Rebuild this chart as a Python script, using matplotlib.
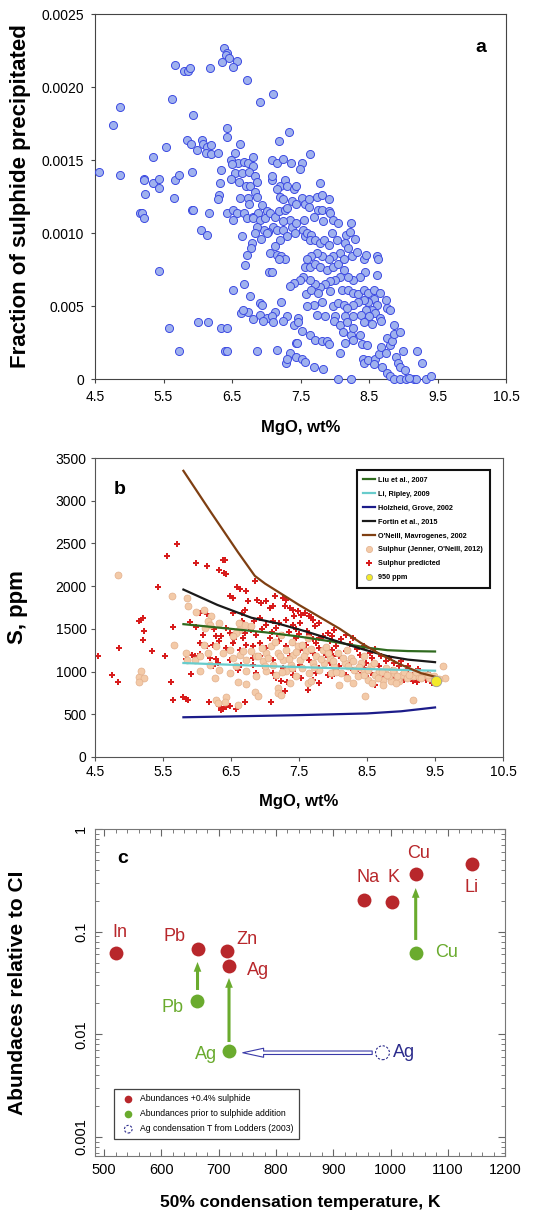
import matplotlib
matplotlib.use('Agg')
import matplotlib.pyplot as plt
import numpy as np
from matplotlib.patches import FancyArrowPatch
from matplotlib.lines import Line2D
from matplotlib.ticker import MultipleLocator, LogLocator, NullFormatter

plt.rcParams['font.family'] = ['Liberation Sans', 'DejaVu Sans']

# ---- panel a: fraction of sulphide precipitated vs MgO ----
mgo_a = [6.38, 6.42, 6.41, 6.46, 6.36, 6.58, 6.52, 6.72, 5.67, 5.80,
         5.86, 5.88, 6.18, 5.63, 6.91, 7.10, 4.86, 4.76, 5.93, 6.43,
         6.42, 7.33, 7.18, 6.61, 5.54, 5.85, 5.90, 5.99, 6.06, 6.08,
         6.14, 6.19, 6.12, 6.20, 6.30, 6.54, 5.35, 4.56, 4.87, 5.21,
         5.22, 5.34, 5.44, 5.44, 5.67, 5.73, 5.91, 5.65, 5.23, 5.15,
         5.19, 5.22, 5.92, 5.93, 6.16, 6.04, 6.13, 5.43, 6.34, 6.33,
         6.31, 6.29, 6.42, 6.52, 6.57, 6.67, 6.52, 6.72, 6.81, 6.64,
         6.79, 6.77, 6.72, 6.69, 6.52, 6.68, 6.76, 6.63, 6.48, 6.59,
         6.68, 6.74, 6.81, 6.81, 6.50, 6.54, 6.64, 6.75, 6.83, 6.49,
         6.60, 6.70, 6.76, 6.87, 6.83, 6.86, 6.74, 6.61, 6.75, 6.94,
         7.01, 6.88, 6.81, 6.91, 6.98, 7.06, 7.13, 7.18, 7.28, 7.31,
         7.35, 7.25, 7.10, 7.03, 6.96, 6.86, 6.84, 6.93, 7.01, 7.15,
         7.25, 7.37, 7.44, 7.42, 7.30, 7.20, 7.13, 7.06, 7.15, 7.22,
         7.28, 7.18, 7.04, 7.09, 7.08, 7.09, 7.15, 7.25, 7.36, 7.52,
         7.49, 7.64, 7.79, 7.08, 7.20, 7.16, 7.28, 7.30, 7.40, 7.43,
         7.20, 7.25, 7.37, 7.43, 7.52, 7.57, 7.62, 7.74, 7.82, 7.91,
         7.62, 7.76, 7.81, 7.91, 7.93, 7.98, 8.05, 7.83, 7.69, 7.55,
         7.54, 7.57, 7.60, 7.66, 7.64, 7.71, 7.78, 7.84, 7.92, 7.96,
         8.03, 8.17, 8.23, 8.22, 8.30, 8.15, 8.20, 8.07, 7.98, 7.91,
         7.81, 7.74, 7.66, 7.59, 7.57, 7.64, 7.71, 7.78, 7.88, 7.98,
         8.05, 8.13, 8.25, 8.32, 8.42, 8.46, 8.62, 8.63, 8.61, 8.44,
         8.37, 8.27, 8.20, 8.13, 8.08, 8.00, 7.93, 7.86, 7.78, 7.71,
         7.64, 7.54, 7.49, 7.40, 7.35, 8.10, 8.20, 8.27, 8.34, 8.42,
         8.49, 8.57, 8.66, 8.57, 8.49, 8.42, 8.34, 8.27, 8.75, 8.76,
         8.80, 8.61, 8.54, 8.46, 8.59, 7.98, 8.05, 8.13, 8.18, 7.81,
         7.69, 7.59, 7.58, 7.66, 7.76, 7.93, 7.21, 7.30, 6.91, 6.94,
         7.13, 6.74, 6.66, 6.91, 7.01, 7.08, 7.47, 7.74, 7.86, 8.00,
         8.15, 8.27, 8.39, 8.50, 8.66, 5.58, 5.72, 6.00, 6.15, 6.34,
         6.42, 6.40, 6.42, 6.87, 7.16, 6.80, 6.95, 7.10, 7.25, 7.40,
         7.52, 7.47, 7.64, 7.71, 7.81, 7.89, 7.92, 7.43, 7.45, 7.35,
         7.29, 7.31, 7.44, 7.52, 7.57, 7.69, 7.83, 8.07, 8.04, 8.24,
         7.99, 8.07, 8.12, 8.15, 8.24, 8.26, 8.18, 8.27, 8.37, 8.42,
         8.55, 8.67, 8.40, 8.47, 8.41, 8.42, 8.49, 8.59, 8.57, 8.64,
         8.67, 8.75, 8.76, 8.81, 8.84, 8.86, 8.86, 8.95, 8.89, 8.92,
         8.95, 9.00, 9.03, 8.69, 8.76, 8.81, 9.20, 9.28, 8.86, 8.95,
         9.04, 9.15, 9.19, 9.33, 9.40, 9.09]
frac_a = [0.00227, 0.00223, 0.00222, 0.00220, 0.00217, 0.00218, 0.00214, 0.00205, 0.00215, 0.00211,
          0.00211, 0.00213, 0.00213, 0.00192, 0.00190, 0.00195, 0.00186, 0.00174, 0.00181, 0.00172,
          0.00166, 0.00169, 0.00163, 0.00161, 0.00159, 0.00164, 0.00161, 0.00157, 0.00164, 0.00161,
          0.00159, 0.00160, 0.00155, 0.00154, 0.00155, 0.00155, 0.00152, 0.00142, 0.00140, 0.00137,
          0.00136, 0.00134, 0.00137, 0.00131, 0.00136, 0.00140, 0.00142, 0.00124, 0.00127, 0.00114,
          0.00114, 0.00110, 0.00116, 0.00116, 0.00114, 0.00102, 0.00099, 0.00074, 0.00143, 0.00134,
          0.00126, 0.00123, 0.00114, 0.00116, 0.00114, 0.00114, 0.00109, 0.00110, 0.00111, 0.00098,
          0.00093, 0.00090, 0.00085, 0.00078, 0.00061, 0.00065, 0.00057, 0.00045, 0.00150, 0.00148,
          0.00149, 0.00148, 0.00152, 0.00146, 0.00147, 0.00141, 0.00141, 0.00142, 0.00139, 0.00137,
          0.00135, 0.00132, 0.00132, 0.00135, 0.00128, 0.00125, 0.00124, 0.00124, 0.00120, 0.00119,
          0.00115, 0.00114, 0.00110, 0.00109, 0.00110, 0.00114, 0.00111, 0.00115, 0.00116, 0.00117,
          0.00109, 0.00108, 0.00104, 0.00101, 0.00102, 0.00104, 0.00100, 0.00096, 0.00100, 0.00102,
          0.00102, 0.00104, 0.00107, 0.00100, 0.00098, 0.00095, 0.00091, 0.00086, 0.00085, 0.00084,
          0.00082, 0.00082, 0.00073, 0.00073, 0.00136, 0.00150, 0.00148, 0.00151, 0.00148, 0.00148,
          0.00144, 0.00154, 0.00134, 0.00139, 0.00132, 0.00130, 0.00136, 0.00132, 0.00130, 0.00132,
          0.00125, 0.00123, 0.00122, 0.00120, 0.00124, 0.00120, 0.00123, 0.00125, 0.00126, 0.00123,
          0.00118, 0.00116, 0.00116, 0.00115, 0.00114, 0.00109, 0.00107, 0.00108, 0.00111, 0.00109,
          0.00102, 0.00098, 0.00100, 0.00099, 0.00095, 0.00095, 0.00093, 0.00095, 0.00092, 0.00100,
          0.00095, 0.00099, 0.00107, 0.00101, 0.00096, 0.00093, 0.00090, 0.00086, 0.00084, 0.00082,
          0.00084, 0.00086, 0.00084, 0.00082, 0.00077, 0.00077, 0.00079, 0.00077, 0.00075, 0.00077,
          0.00079, 0.00082, 0.00084, 0.00087, 0.00082, 0.00085, 0.00084, 0.00082, 0.00071, 0.00073,
          0.00070, 0.00068, 0.00070, 0.00075, 0.00070, 0.00068, 0.00067, 0.00065, 0.00063, 0.00065,
          0.00068, 0.00070, 0.00068, 0.00066, 0.00064, 0.00061, 0.00061, 0.00059, 0.00058, 0.00061,
          0.00059, 0.00061, 0.00059, 0.00055, 0.00053, 0.00054, 0.00053, 0.00051, 0.00054, 0.00049,
          0.00047, 0.00051, 0.00047, 0.00047, 0.00045, 0.00050, 0.00052, 0.00051, 0.00049, 0.00053,
          0.00051, 0.00050, 0.00058, 0.00061, 0.00059, 0.00060, 0.00053, 0.00043, 0.00052, 0.00051,
          0.00046, 0.00046, 0.00047, 0.00044, 0.00042, 0.00043, 0.00042, 0.00044, 0.00043, 0.00043,
          0.00043, 0.00043, 0.00044, 0.00043, 0.00042, 0.00035, 0.00019, 0.00039, 0.00039, 0.00035,
          0.00035, 0.00019, 0.00019, 0.00019, 0.00020, 0.00041, 0.00040, 0.00039, 0.00040, 0.00037,
          0.00033, 0.00039, 0.00030, 0.00027, 0.00026, 0.00026, 0.00024, 0.00025, 0.00025, 0.00018,
          0.00011, 0.00014, 0.00015, 0.00014, 0.00012, 0.00008, 0.00007, 0.00018, 0.0, 0.0,
          0.00040, 0.00037, 0.00032, 0.00025, 0.00030, 0.00027, 0.00039, 0.00035, 0.00030, 0.00039,
          0.00038, 0.00040, 0.00024, 0.00023, 0.00014, 0.00011, 0.00013, 0.00014, 0.00010, 0.00017,
          0.00022, 0.00018, 0.00028, 0.00023, 0.00026, 0.00037, 0.00031, 0.00032, 0.00015, 0.00011,
          0.00008, 0.00019, 0.00006, 0.00008, 0.00004, 0.00002, 0.00019, 0.00011, 0.0, 0.0,
          0.0, 0.0, 0.0, 0.0, 0.00002, 0.00001]

# ---- panel b: S (ppm) vs MgO ----
pred_mgo = [5.70, 5.56, 5.42, 5.14, 5.18, 5.21, 5.22, 5.64, 5.98, 6.14,
            6.33, 6.38, 6.41, 6.39, 6.43, 6.86, 6.59, 6.63, 6.72, 6.75,
            6.70, 6.49, 6.53, 6.88, 6.94, 7.02, 7.07, 7.12, 7.14, 7.26,
            7.31, 7.29, 7.36, 7.41, 7.48, 7.43, 7.53, 7.59, 7.65, 7.68,
            7.70, 7.80, 7.73, 7.51, 7.41, 7.31, 7.21, 7.11, 7.02, 6.92,
            6.84, 6.66, 6.53, 6.66, 6.15, 6.04, 5.90, 5.99, 8.02, 7.92,
            4.55, 4.75, 4.85, 4.84, 5.21, 5.34, 5.53, 5.62, 5.65, 5.79,
            5.84, 5.87, 5.91, 5.84, 5.92, 5.97, 6.04, 6.18, 6.23, 6.28,
            6.33, 6.36, 6.38, 6.43, 6.48, 6.57, 6.60, 6.71, 6.82, 6.89,
            6.92, 7.09, 7.16, 7.24, 7.30, 7.33, 7.41, 7.53, 7.63, 7.70,
            7.79, 7.92, 8.04, 8.19, 8.29, 8.39, 8.48, 8.62, 8.73, 8.87,
            8.99, 9.17, 9.24, 9.36, 9.46,
            6.04, 6.14, 6.24, 6.33, 6.43, 6.53, 6.63, 6.72, 6.82, 6.92,
            7.02, 7.11, 7.21, 7.31, 7.41, 7.51, 7.60, 7.70, 7.80, 7.90,
            7.99, 8.09, 8.19, 8.29, 8.39, 8.48, 8.58, 8.68, 8.78, 8.87,
            8.97, 9.07, 9.20, 9.29, 6.19, 6.31, 6.48, 6.65, 6.82, 6.97,
            7.11, 7.26, 7.36, 7.51, 7.65, 7.80, 7.95, 8.09, 8.24, 8.34,
            8.46, 8.56, 8.66, 8.78, 8.92, 9.04, 7.99, 7.75, 7.41, 7.11,
            6.87,
            6.09, 6.28, 6.48, 6.68, 6.87, 7.07, 7.26, 7.46, 7.65, 7.80,
            7.99, 8.19, 8.29, 6.43, 6.80, 7.16,
            7.20, 7.35, 7.50, 7.62, 7.75, 7.85, 7.95, 8.05, 8.12, 8.25,
            8.35, 8.45, 8.55, 8.62, 8.70, 8.82, 8.90, 9.00, 9.10, 9.25,
            9.40, 8.00, 7.70, 7.45, 7.10, 6.95, 6.70, 6.55, 6.35, 6.25]
pred_s = [2498, 2357, 1990, 1589, 1608, 1628, 1471, 1522, 2272, 2233,
          2193, 2303, 2303, 2154, 2147, 2057, 1990, 1967, 1940, 1823,
          1725, 1889, 1862, 1842, 1803, 1823, 1745, 1764, 1881, 1862,
          1842, 1764, 1745, 1725, 1706, 1647, 1667, 1686, 1655, 1635,
          1608, 1569, 1530, 1569, 1550, 1608, 1569, 1589, 1550, 1628,
          1596, 1686, 1686, 1589, 1678, 1686, 1577, 1522, 1491, 1452,
          1187, 964, 1276, 874, 1374, 1237, 1187, 878, 663, 703,
          679, 671, 972, 1148, 1198, 1187, 1210, 644, 1062, 1148,
          593, 546, 562, 581, 601, 562, 1023, 644, 1081, 730,
          1179, 644, 925, 886, 769, 878, 964, 925, 788, 905,
          866, 964, 1023, 964, 1023, 964, 944, 847, 925, 964,
          925, 886, 874, 905, 866,
          1335, 1296, 1315, 1354, 1276, 1335, 1257, 1315, 1296, 1335,
          1276, 1315, 1354, 1296, 1335, 1257, 1315, 1218, 1276, 1198,
          1257, 1179, 1237, 1140, 1198, 1101, 1159, 1062, 1120, 1023,
          1069, 1003, 983, 952, 1159, 1101, 1140, 1081, 1159, 1062,
          1140, 1042, 1179, 1081, 1140, 1042, 1101, 1062, 1081, 1003,
          1042, 983, 944, 983, 925, 905, 944, 983, 1003, 983,
          983,
          1432, 1413, 1452, 1393, 1432, 1393, 1432, 1393, 1432, 1393,
          1413, 1432, 1393, 1510, 1491, 1510,
          1420, 1460, 1440, 1470, 1340, 1420, 1360, 1300, 1380, 1320,
          1260, 1300, 1220, 1260, 1180, 1160, 1100, 1120, 1060, 1030,
          980, 1180, 1380, 1500, 1460, 1500, 1450, 1380, 1420, 1500]

jenner_mgo = [4.84, 5.63, 5.85, 5.87, 5.99, 6.11, 6.20, 6.16, 6.19, 6.33,
              6.12, 6.62, 6.70, 6.80, 6.62, 6.58, 6.53, 7.24, 7.63,
              5.15, 5.18, 5.22, 5.15, 5.66, 5.84, 5.86, 5.97, 6.04, 6.11,
              6.16, 6.27, 6.28, 6.31, 6.42, 6.41, 6.60, 6.60, 6.72, 6.85,
              6.89, 7.19, 7.19, 7.24, 7.63, 7.68, 8.47, 9.17, 9.61, 9.65,
              8.97, 8.85,
              6.28, 6.38, 6.48, 6.53, 6.63, 6.72, 6.80, 6.87, 6.97, 7.02,
              7.09, 7.11, 7.19, 7.26, 7.31, 7.38, 7.41, 7.48, 7.51, 7.55,
              7.60, 7.65, 7.70, 7.75, 7.80, 7.85, 7.87, 7.95, 7.97, 8.02,
              8.07, 8.12, 8.17, 8.21, 8.26, 8.31, 8.36, 8.41, 8.46, 8.51,
              8.56, 8.61, 8.68, 8.73, 8.78, 8.83, 8.90, 8.95, 9.02, 9.09,
              9.17, 9.26, 9.34, 9.41, 9.48, 9.56, 6.04, 6.19, 6.33, 6.48,
              6.58, 6.72, 6.87, 7.02, 7.16, 7.31, 7.46, 7.36, 8.09, 8.29,
              8.58, 8.73, 8.92,
              7.05, 7.22, 7.35, 7.45, 7.58, 7.68, 7.72, 7.82, 7.92, 8.00,
              8.05, 8.15, 8.22, 8.30, 8.38, 8.45, 8.52, 8.60, 8.66, 8.72,
              8.80, 8.88, 8.94, 9.05, 9.12, 9.22, 9.30, 9.40, 7.40, 7.25,
              7.00, 6.90, 6.68, 6.95, 7.15, 7.40, 7.55, 7.90, 8.20, 8.45]
jenner_s = [2135, 1889, 1862, 1764, 1694, 1725, 1655, 1589, 1550, 1569,
            1510, 1569, 1550, 1530, 1491, 1452, 1421, 1432, 1393,
            937, 1003, 925, 874, 1315, 1218, 1140, 1132, 1179, 1315,
            1218, 925, 671, 632, 703, 640, 613, 878, 855, 761,
            718, 808, 749, 730, 866, 886, 718, 667, 1069, 925,
            886, 886,
            1296, 1218, 1257, 1159, 1198, 1140, 1237, 1179, 1120, 1218,
            1296, 1081, 1218, 1140, 1257, 1081, 1198, 1296, 1140, 1042,
            1237, 983, 1101, 1179, 1023, 1257, 1101, 1159, 983, 1062,
            1218, 983, 1101, 925, 1159, 1023, 944, 1101, 1003, 905,
            1062, 964, 1003, 905, 1042, 944, 983, 913, 964, 925,
            952, 937, 964, 925, 952, 913, 1003, 1081, 1023, 983,
            1062, 1003, 944, 1003, 964, 1003, 944, 866, 847, 866,
            866, 847, 866,
            1160, 1180, 1150, 1230, 1180, 1260, 1050, 1150, 1220, 1120,
            1000, 1160, 1060, 1120, 1050, 960, 1020, 1100, 930, 1000,
            960, 1020, 950, 1000, 960, 990, 930, 960, 1040, 1000,
            1060, 1180, 1240, 1280, 1350, 1350, 1310, 1290, 1250, 1180]

liu_mgo = [5.8, 6.5, 7.0, 7.5, 8.0, 8.5, 8.8, 9.1, 9.5]
liu_s = [1555, 1500, 1460, 1410, 1350, 1280, 1250, 1240, 1235]
li_mgo = [5.8, 7.0, 8.0, 9.0, 9.5]
li_s = [1100, 1065, 1040, 1020, 1010]
holz_mgo = [5.8, 6.5, 7.5, 8.5, 9.0, 9.5]
holz_s = [465, 475, 490, 510, 535, 580]
fortin_mgo = [5.8, 6.3, 6.8, 7.2, 7.6, 8.0, 8.4, 8.8, 9.1, 9.5]
fortin_s = [1960, 1780, 1630, 1560, 1470, 1370, 1270, 1180, 1140, 1110]
oneill_mgo = [5.8, 6.2, 6.6, 6.85, 7.0, 7.2, 7.5, 7.8, 8.1, 8.4, 8.7, 9.0, 9.3, 9.5]
oneill_s = [3350, 2870, 2400, 2120, 2030, 1930, 1780, 1640, 1500, 1340, 1200, 1080, 980, 940]
ppm950_mgo = [9.52]
ppm950_s = [890]

# ---- panel c: abundances vs 50% condensation temperature ----
red_el = ['In', 'Pb', 'Zn', 'Ag', 'Na', 'K', 'Cu', 'Li']
red_t = [521, 663, 715, 718, 954, 1002, 1044, 1142]
red_ab = [0.062, 0.068, 0.065, 0.0465, 0.203, 0.193, 0.362, 0.453]
green_el = ['Pb', 'Ag', 'Cu']
green_t = [662, 718, 1044]
green_ab = [0.0209, 0.0069, 0.0623]
lodders_t = [986]
lodders_ab = [0.0066]

xticks_ab = [4.5, 5.5, 6.5, 7.5, 8.5, 9.5, 10.5]
yticks_a = [0, 0.0005, 0.0010, 0.0015, 0.0020, 0.0025]
ylabels_a = ['0', '0.005', '0.0010', '0.0015', '0.0020', '0.0025']
yticks_b = [0, 500, 1000, 1500, 2000, 2500, 3000, 3500]
xticks_c = [500, 600, 700, 800, 900, 1000, 1100, 1200]
yticks_c = [0.001, 0.01, 0.1, 1]
ylabels_c = ['0.001', '0.01', '0.1', '1']

red_c = '#b8272b'
green_c = '#6aab2e'
navy_c = '#2c2c8c'

fig = plt.figure(figsize=(5.42, 12.11), dpi=100)

# panel a
ax1 = fig.add_axes([0.1753, 0.6870, 0.7583, 0.3014])
ax1.plot(mgo_a, frac_a, 'o', ms=5.8, mfc='#9fb1ee', mec='#3d4be2', mew=0.7,
         linestyle='none', clip_on=False, zorder=3)
ax1.set_xlim(4.5, 10.5)
ax1.set_ylim(0, 0.0025)
ax1.set_xticks(xticks_ab)
ax1.set_xticklabels([str(v) for v in xticks_ab])
ax1.set_yticks(yticks_a)
ax1.set_yticklabels(ylabels_a)
ax1.tick_params(direction='out', length=3, labelsize=10, color='#444', pad=5)
for s in ax1.spines.values():
    s.set_color('#444')
ax1.set_xlabel('MgO, wt%', fontsize=12, fontweight='bold')
ax1.xaxis.set_label_coords(0.5, -0.112)
ax1.set_ylabel('Fraction of sulphide precipitated', fontsize=16, fontweight='bold')
ax1.yaxis.set_label_coords(-0.155, 0.5)
ax1.text(0.938, 0.907, 'a', transform=ax1.transAxes, fontsize=14,
         fontweight='bold', ha='center', va='center')

# panel b
ax2 = fig.add_axes([0.1753, 0.3749, 0.7528, 0.2469])
ax2.plot(pred_mgo, pred_s, 'P', ms=5, color='#d81c1c', mew=0, linestyle='none', zorder=2)
ax2.plot(jenner_mgo, jenner_s, 'o', ms=5, mfc='#f3caa8', mec='#e3b08c', mew=0.5,
         linestyle='none', zorder=3)
ax2.plot(liu_mgo, liu_s, color='#2f6a1e', lw=1.6, zorder=4)
ax2.plot(li_mgo, li_s, color='#68cccc', lw=1.6, zorder=4)
ax2.plot(holz_mgo, holz_s, color='#1c1c8a', lw=1.6, zorder=4)
ax2.plot(fortin_mgo, fortin_s, color='#1a1a1a', lw=1.6, zorder=4)
ax2.plot(oneill_mgo, oneill_s, color='#7f3f12', lw=1.6, zorder=4)
ax2.plot(ppm950_mgo, ppm950_s, 'o', ms=7.5, mfc='#f3ea2a', mec='#9a9a9a', mew=0.6, zorder=5)
ax2.set_xlim(4.5, 10.5)
ax2.set_ylim(0, 3500)
ax2.set_xticks(xticks_ab)
ax2.set_xticklabels([str(v) for v in xticks_ab])
ax2.set_yticks(yticks_b)
ax2.tick_params(direction='out', length=3, labelsize=10, color='#555', pad=3)
for s in ax2.spines.values():
    s.set_color('#555')
ax2.set_xlabel('MgO, wt%', fontsize=12, fontweight='bold')
ax2.xaxis.set_label_coords(0.5, -0.124)
ax2.set_ylabel('S, ppm', fontsize=16, fontweight='bold')
ax2.yaxis.set_label_coords(-0.164, 0.5)
ax2.text(0.061, 0.893, 'b', transform=ax2.transAxes, fontsize=14,
         fontweight='bold', ha='center', va='center')
handles_b = [
    Line2D([], [], color='#2f6a1e', lw=1.6),
    Line2D([], [], color='#68cccc', lw=1.6),
    Line2D([], [], color='#1c1c8a', lw=1.6),
    Line2D([], [], color='#1a1a1a', lw=1.6),
    Line2D([], [], color='#7f3f12', lw=1.6),
    Line2D([], [], marker='o', ls='none', ms=4.5, mfc='#f3caa8', mec='#e3b08c', mew=0.5),
    Line2D([], [], marker='P', ls='none', ms=4.5, color='#d81c1c', mew=0),
    Line2D([], [], marker='o', ls='none', ms=4.5, mfc='#f3ea2a', mec='#9a9a9a', mew=0.5),
]
labels_b = ['Liu et al., 2007', 'Li, Ripley, 2009', 'Holzheid, Grove, 2002',
            'Fortin et al., 2015', "O'Neill, Mavrogenes, 2002",
            "Sulphur (Jenner, O'Neill, 2012)", 'Sulphur predicted', '950 ppm']
leg_b = ax2.legend(handles_b, labels_b, loc='upper right', bbox_to_anchor=(0.976, 0.971),
                   prop={'size': 5.2, 'weight': 'bold'}, handlelength=1.6,
                   handletextpad=0.5, labelspacing=0.95, borderpad=0.9,
                   fancybox=False, framealpha=1)
leg_b.get_frame().set_edgecolor('#111')
leg_b.get_frame().set_linewidth(1.5)

# panel c
ax3 = fig.add_axes([0.1753, 0.0454, 0.7565, 0.2700])
ax3.set_yscale('log')
ax3.set_xlim(484, 1200)
ax3.set_ylim(0.00065, 1)
sc_red = ax3.scatter(red_t, red_ab, s=100, color=red_c, zorder=4, linewidths=0)
sc_green = ax3.scatter(green_t, green_ab, s=100, color=green_c, zorder=4, linewidths=0)
sc_lod = ax3.scatter(lodders_t, lodders_ab, s=100, facecolor='white', edgecolor=navy_c,
                     linewidths=0.8, linestyle=(0, (2, 1.5)), zorder=4)

# labels next to the points
red_lab_t = [527, 622, 750, 769, 960, 1005, 1049, 1142]
red_lab_ab = [0.099, 0.090, 0.083, 0.042, 0.34, 0.34, 0.58, 0.27]
for el, t, a in zip(red_el, red_lab_t, red_lab_ab):
    ax3.text(t, a, el, color=red_c, fontsize=13, ha='center', va='center')
green_lab_t = [619, 678, 1098]
green_lab_ab = [0.0184, 0.0063, 0.062]
for el, t, a in zip(green_el, green_lab_t, green_lab_ab):
    ax3.text(t, a, el, color=green_c, fontsize=13, ha='center', va='center')
ax3.text(1023, 0.0066, 'Ag', color=navy_c, fontsize=13, ha='center', va='center')

# green arrows: before -> after sulphide addition
arrow_t = [663, 718, 1044]
arrow_from = [0.027, 0.0084, 0.083]
arrow_to = [0.0506, 0.0353, 0.266]
for t, a0, a1 in zip(arrow_t, arrow_from, arrow_to):
    ax3.add_patch(FancyArrowPatch((t, a0), (t, a1), mutation_scale=10,
                                  arrowstyle='simple,head_length=0.7,head_width=0.55,tail_width=0.22',
                                  color=green_c, lw=0, shrinkA=0, shrinkB=0, zorder=3))
# hollow arrow: Lodders Ag temperature -> adopted Ag temperature
ax3.add_patch(FancyArrowPatch((968, 0.0066), (742, 0.0066), mutation_scale=10,
                              arrowstyle='simple,head_length=1.5,head_width=0.65,tail_width=0.25',
                              facecolor='white', edgecolor='#3a3aa8', lw=0.8,
                              shrinkA=0, shrinkB=0, zorder=3))

ax3.set_xticks(xticks_c)
ax3.set_xticklabels([str(v) for v in xticks_c])
ax3.xaxis.set_minor_locator(MultipleLocator(20))
ax3.set_yticks(yticks_c)
ax3.set_yticklabels(ylabels_c, rotation=90, va='center')
ax3.yaxis.set_minor_locator(LogLocator(base=10, subs=np.arange(2, 10)))
ax3.yaxis.set_minor_formatter(NullFormatter())
ax3.tick_params(which='both', direction='in', top=True, right=True, color='#666')
ax3.tick_params(which='major', length=5, labelsize=10.5, pad=5)
ax3.tick_params(which='minor', length=3)
for s in ax3.spines.values():
    s.set_color('#777')
ax3.set_xlabel('50% condensation temperature, K', fontsize=12.5, fontweight='bold')
ax3.xaxis.set_label_coords(0.5, -0.119)
ax3.set_ylabel('Abundaces relative to CI', fontsize=15, fontweight='bold')
ax3.yaxis.set_label_coords(-0.166, 0.5)
ax3.text(0.068, 0.911, 'c', transform=ax3.transAxes, fontsize=14,
         fontweight='bold', ha='center', va='center')
leg_c = ax3.legend([sc_red, sc_green, sc_lod],
                   ['Abundances +0.4% sulphide', 'Abundances prior to sulphide addition',
                    'Ag condensation T from Lodders (2003)'],
                   loc='lower left', bbox_to_anchor=(0.037, 0.04), fontsize=6.2,
                   markerscale=0.55, handletextpad=0.4, labelspacing=0.7,
                   borderpad=0.6, fancybox=False, framealpha=1, scatterpoints=1)
leg_c.get_frame().set_edgecolor('#444')
leg_c.get_frame().set_linewidth(0.9)

plt.savefig('out.png', dpi=100)
